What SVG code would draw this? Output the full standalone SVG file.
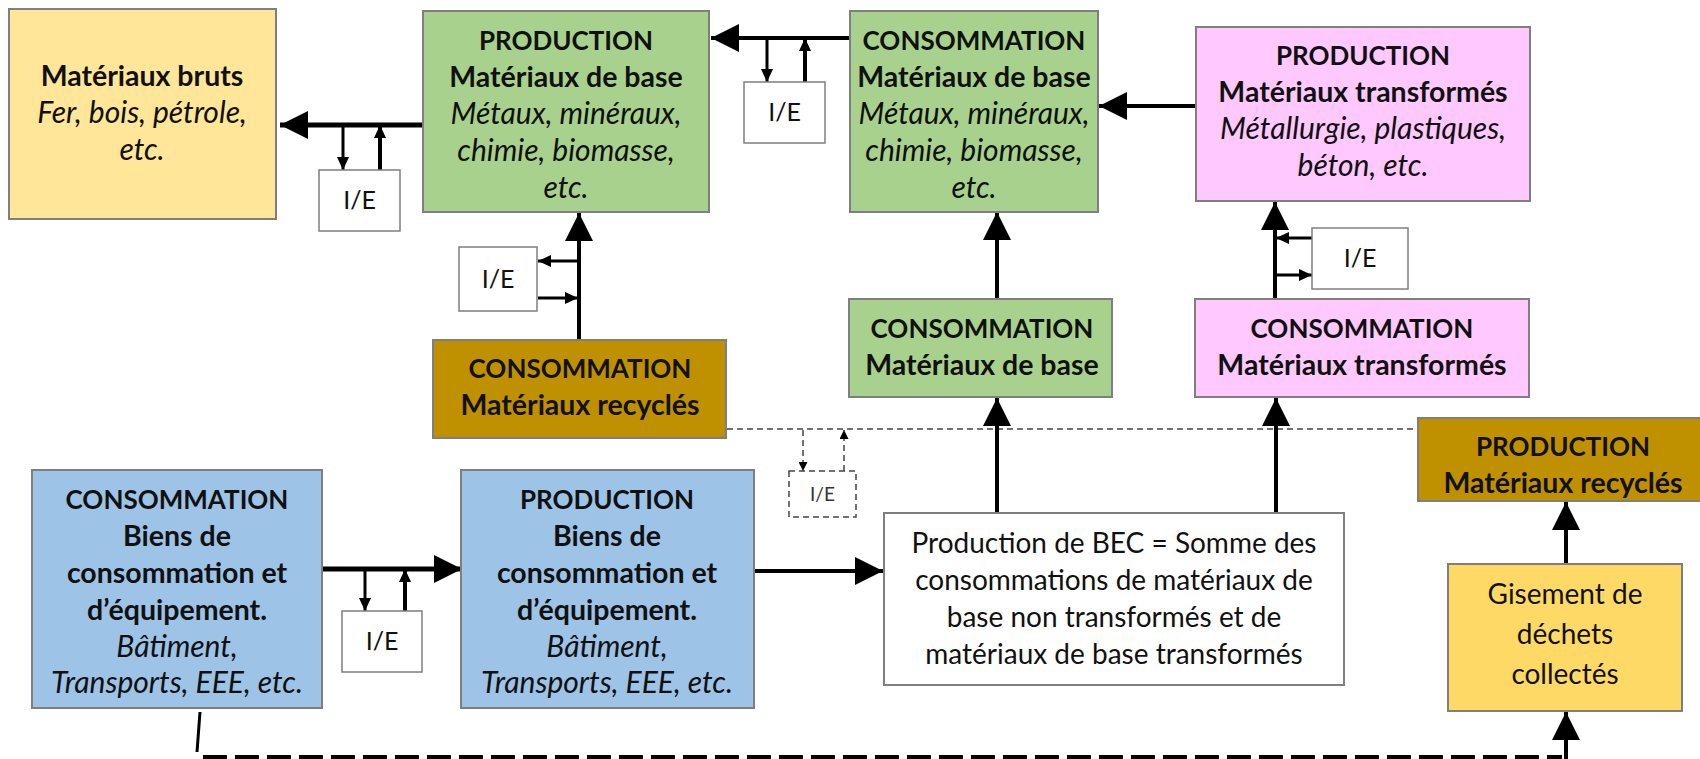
<svg xmlns="http://www.w3.org/2000/svg" width="1700" height="759" viewBox="0 0 1700 759">
<style>
text{font-family:Lato,"Liberation Sans",sans-serif;fill:#111;text-anchor:middle}
.c{font-size:26px;font-weight:bold}
.b{font-size:28.5px;font-weight:bold}
.i{font-size:30px;font-style:italic}
.r{font-size:28px}
.ie{font-size:25px}
.ied{font-size:19px;fill:#333}
.box{stroke:#7f7f7f;stroke-width:2}
.ieb{fill:#fff;stroke:#7f7f7f;stroke-width:1.5}
.w5{stroke:#000;stroke-width:5;fill:none}
.w4{stroke:#000;stroke-width:4;fill:none}
.w3{stroke:#000;stroke-width:3;fill:none}
.dsh{stroke:#444;stroke-width:1.5;fill:none;stroke-dasharray:6 4}
</style>
<defs>
<marker id="big" markerUnits="userSpaceOnUse" markerWidth="28" markerHeight="28" refX="28" refY="14" orient="auto"><path d="M0,0 L28,14 L0,28 z" fill="#000"/></marker>
<marker id="sm" markerUnits="userSpaceOnUse" markerWidth="13" markerHeight="12" refX="13" refY="6" orient="auto"><path d="M0,0 L13,6 L0,12 z" fill="#000"/></marker>
<marker id="xs" markerUnits="userSpaceOnUse" markerWidth="9" markerHeight="9" refX="9" refY="4.5" orient="auto"><path d="M0,0 L9,4.5 L0,9 z" fill="#000"/></marker>
</defs>

<g id="connectors">
<line class="w5" x1="423" y1="125" x2="280" y2="125" marker-end="url(#big)"/>
<line class="w3" x1="343" y1="125" x2="343" y2="170" marker-end="url(#sm)"/>
<line class="w4" x1="380" y1="170" x2="380" y2="125" marker-end="url(#sm)"/>
<line class="w4" x1="851" y1="38" x2="711" y2="38" marker-end="url(#big)"/>
<line class="w3" x1="767" y1="38" x2="767" y2="82" marker-end="url(#sm)"/>
<line class="w4" x1="805" y1="82" x2="805" y2="38" marker-end="url(#sm)"/>
<line class="w4" x1="1196" y1="106" x2="1099" y2="106" marker-end="url(#big)"/>
<line class="w4" x1="1275" y1="299" x2="1275" y2="202" marker-end="url(#big)"/>
<line class="w3" x1="1312" y1="238" x2="1276" y2="238" marker-end="url(#sm)"/>
<line class="w3" x1="1276" y1="275" x2="1312" y2="275" marker-end="url(#sm)"/>
<line class="w4" x1="997" y1="299" x2="997" y2="212" marker-end="url(#big)"/>
<line class="w4" x1="579" y1="340" x2="579" y2="213" marker-end="url(#big)"/>
<line class="w3" x1="578" y1="261" x2="538" y2="261" marker-end="url(#sm)"/>
<line class="w3" x1="538" y1="298" x2="578" y2="298" marker-end="url(#sm)"/>
<line class="dsh" x1="727" y1="429" x2="1418" y2="429"/>
<line class="dsh" x1="803" y1="430" x2="803" y2="471" marker-end="url(#xs)"/>
<line class="dsh" x1="844" y1="471" x2="844" y2="430" marker-end="url(#xs)"/>
<line class="w4" x1="997" y1="513" x2="997" y2="398" marker-end="url(#big)"/>
<line class="w4" x1="1276" y1="513" x2="1276" y2="398" marker-end="url(#big)"/>
<line class="w5" x1="322" y1="569" x2="462" y2="569" marker-end="url(#big)"/>
<line class="w3" x1="365" y1="569" x2="365" y2="611" marker-end="url(#sm)"/>
<line class="w4" x1="405" y1="611" x2="405" y2="569" marker-end="url(#sm)"/>
<line class="w4" x1="754" y1="571" x2="883" y2="571" marker-end="url(#big)"/>
<line class="w4" x1="1566" y1="564" x2="1566" y2="502" marker-end="url(#big)"/>
<line class="w4" x1="1566" y1="759" x2="1566" y2="712" marker-end="url(#big)"/>
<line class="w3" x1="200" y1="712" x2="197" y2="752"/>
<line stroke="#000" stroke-width="4" stroke-dasharray="24 8" x1="203" y1="757" x2="1562" y2="757"/>
</g>

<g id="materiaux-bruts">
<rect class="box" x="9" y="9" width="267" height="210" fill="#FFE699"/>
<text class="b" x="142" y="86">Matériaux bruts</text>
<text class="i" x="142" y="123">Fer, bois, pétrole,</text>
<text class="i" x="142" y="160">etc.</text>
</g>

<g id="production-mb">
<rect class="box" x="423" y="11" width="286" height="201" fill="#A9D18E"/>
<text class="c" x="566" y="50">PRODUCTION</text>
<text class="b" x="566" y="87">Matériaux de base</text>
<text class="i" x="566" y="124">Métaux, minéraux,</text>
<text class="i" x="566" y="161">chimie, biomasse,</text>
<text class="i" x="566" y="198">etc.</text>
</g>

<g id="consommation-mb">
<rect class="box" x="850" y="11" width="248" height="201" fill="#A9D18E"/>
<text class="c" x="974" y="50">CONSOMMATION</text>
<text class="b" x="974" y="87">Matériaux de base</text>
<text class="i" x="974" y="124">Métaux, minéraux,</text>
<text class="i" x="974" y="161">chimie, biomasse,</text>
<text class="i" x="974" y="198">etc.</text>
</g>

<g id="production-mt">
<rect class="box" x="1196" y="27" width="334" height="174" fill="#FFC9FF"/>
<text class="c" x="1363" y="65">PRODUCTION</text>
<text class="b" x="1363" y="102">Matériaux transformés</text>
<text class="i" x="1363" y="139">Métallurgie, plastiques,</text>
<text class="i" x="1363" y="176">béton, etc.</text>
</g>

<g id="ie-1"><rect class="ieb" x="319" y="170" width="81" height="61"/><text class="ie" x="359.5" y="209">I/E</text></g>
<g id="ie-2"><rect class="ieb" x="744" y="82" width="81" height="61"/><text class="ie" x="784.5" y="121">I/E</text></g>
<g id="ie-3"><rect class="ieb" x="1312" y="228" width="96" height="61"/><text class="ie" x="1360" y="267">I/E</text></g>
<g id="ie-4"><rect class="ieb" x="459" y="247" width="78" height="64"/><text class="ie" x="498" y="288">I/E</text></g>
<g id="ie-5"><rect class="ieb" x="342" y="611" width="80" height="61"/><text class="ie" x="382" y="650">I/E</text></g>
<g id="ie-dashed"><rect x="789" y="471" width="67" height="46" fill="#fff" stroke="#444" stroke-width="1.5" stroke-dasharray="6 4"/><text class="ied" x="822.5" y="501">I/E</text></g>

<g id="consommation-mb-small">
<rect class="box" x="849" y="299" width="263" height="98" fill="#A9D18E"/>
<text class="c" x="982" y="338">CONSOMMATION</text>
<text class="b" x="982" y="375">Matériaux de base</text>
</g>

<g id="consommation-mt-small">
<rect class="box" x="1195" y="299" width="334" height="98" fill="#FFC9FF"/>
<text class="c" x="1362" y="338">CONSOMMATION</text>
<text class="b" x="1362" y="375">Matériaux transformés</text>
</g>

<g id="consommation-recycles">
<rect class="box" x="433" y="340" width="293" height="98" fill="#BF9000"/>
<text class="c" x="580" y="378">CONSOMMATION</text>
<text class="b" x="580" y="415">Matériaux recyclés</text>
</g>

<g id="production-recycles">
<rect class="box" x="1418" y="418" width="290" height="83" fill="#BF9000"/>
<text class="c" x="1563" y="456">PRODUCTION</text>
<text class="b" x="1563" y="493">Matériaux recyclés</text>
</g>

<g id="gisement">
<rect class="box" x="1448" y="564" width="234" height="147" fill="#FFD966"/>
<text class="r" x="1565" y="604">Gisement de</text>
<text class="r" x="1565" y="644">déchets</text>
<text class="r" x="1565" y="684">collectés</text>
</g>

<g id="bec">
<rect class="box" x="884" y="513" width="460" height="172" fill="#fff"/>
<text class="r" x="1114" y="553">Production de BEC = Somme des</text>
<text class="r" x="1114" y="590">consommations de matériaux de</text>
<text class="r" x="1114" y="627">base non transformés et de</text>
<text class="r" x="1114" y="664">matériaux de base transformés</text>
</g>

<g id="consommation-biens">
<rect class="box" x="32" y="470" width="290" height="238" fill="#9DC3E6"/>
<text class="c" x="177" y="509">CONSOMMATION</text>
<text class="b" x="177" y="546">Biens de</text>
<text class="b" x="177" y="583">consommation et</text>
<text class="b" x="177" y="620">d’équipement.</text>
<text class="i" x="177" y="657">Bâtiment,</text>
<text class="i" x="177" y="693">Transports, EEE, etc.</text>
</g>

<g id="production-biens">
<rect class="box" x="461" y="470" width="293" height="238" fill="#9DC3E6"/>
<text class="c" x="607" y="509">PRODUCTION</text>
<text class="b" x="607" y="546">Biens de</text>
<text class="b" x="607" y="583">consommation et</text>
<text class="b" x="607" y="620">d’équipement.</text>
<text class="i" x="607" y="657">Bâtiment,</text>
<text class="i" x="607" y="693">Transports, EEE, etc.</text>
</g>
</svg>
